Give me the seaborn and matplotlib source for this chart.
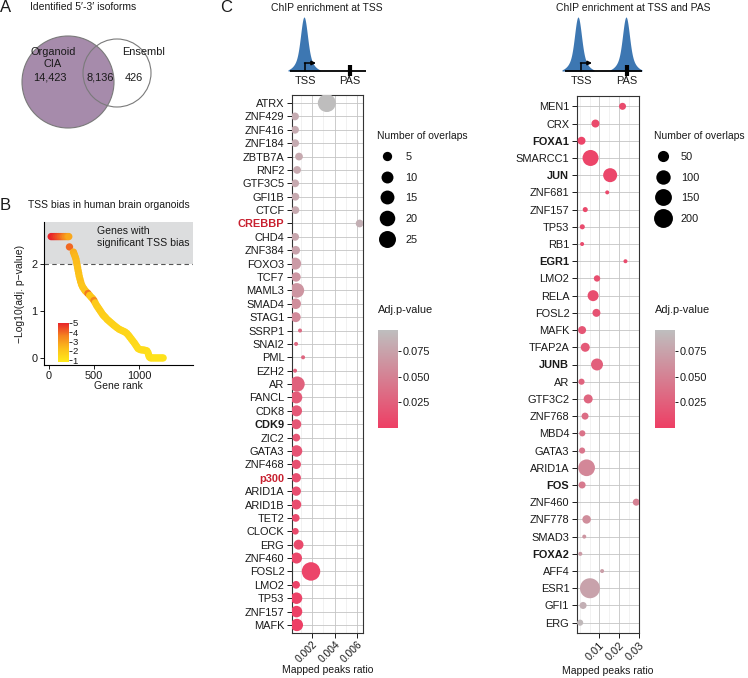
import numpy as np
import pandas as pd
import matplotlib
matplotlib.use("Agg")
import matplotlib.pyplot as plt
from matplotlib.colors import LinearSegmentedColormap, Normalize
from matplotlib.patches import Circle
from matplotlib.lines import Line2D
from matplotlib.ticker import FixedLocator
import seaborn as sns

# ---------------- data ----------------
# Panel A: Venn counts (organoid only, shared, ensembl only)
venn_names = ["Organoid\nCIA", "Ensembl"]
venn_counts = [14423, 8136, 426]

# Panel B: TSS bias per gene
gene_rank = [25, 45, 65, 85, 105, 125, 145, 165, 185, 205, 220, 228,
             272, 282, 292, 300, 306, 312, 318, 324, 330, 336, 344, 352, 362, 374,
             388, 402, 418, 434, 452, 470, 486, 500, 514, 528, 542, 556, 570, 584,
             598, 612, 628, 646, 664, 682, 700, 718, 738, 758, 780, 802, 824, 846,
             866, 884, 900, 916, 932, 948, 962, 976, 990, 1010, 1030, 1050, 1070,
             1088, 1100, 1108, 1116, 1130, 1150, 1170, 1190, 1210, 1230, 1250, 1268]
neg_log_p = [2.58, 2.58, 2.58, 2.58, 2.58, 2.58, 2.58, 2.58, 2.58, 2.58, 2.58, 2.36,
             2.25, 2.20, 2.15, 2.10, 2.04, 1.98, 1.92, 1.86, 1.80, 1.74, 1.68, 1.62, 1.56, 1.51,
             1.47, 1.43, 1.40, 1.37, 1.33, 1.29, 1.26, 1.22, 1.17, 1.12, 1.08, 1.04, 1.00, 0.96,
             0.92, 0.89, 0.86, 0.82, 0.79, 0.76, 0.73, 0.70, 0.67, 0.64, 0.61, 0.59, 0.57, 0.55,
             0.52, 0.48, 0.44, 0.40, 0.36, 0.32, 0.28, 0.24, 0.20, 0.18, 0.17, 0.17, 0.16,
             0.15, 0.11, 0.06, 0.02, 0.0, 0.0, 0.0, 0.0, 0.0, 0.0, 0.0, 0.0]
bias_score = [5.0, 5.0, 4.8, 4.6, 4.4, 4.2, 4.0, 3.7, 3.4, 3.1, 2.8, 4.0,
              2.6, 2.5, 2.4, 2.4, 2.3, 2.3, 2.2, 2.2, 2.2, 2.1, 2.1, 2.2, 2.1, 2.0,
              2.0, 2.1, 2.0, 3.8, 2.0, 1.9, 2.0, 3.5, 1.9, 1.9, 1.9, 1.8, 1.9, 1.8,
              1.8, 1.8, 1.7, 1.7, 1.7, 1.7, 1.6, 1.7, 1.6, 1.6, 1.6, 1.6, 1.5, 1.5,
              1.5, 1.5, 1.5, 1.4, 1.4, 1.4, 1.4, 1.4, 1.3, 1.3, 1.3, 1.3, 1.3,
              1.3, 1.2, 1.2, 1.2, 1.2, 1.2, 1.1, 1.1, 1.1, 1.1, 1.1, 1.1]

# Panel C left: ChIP enrichment at TSS
tss_tf = ["ATRX", "ZNF429", "ZNF416", "ZNF184", "ZBTB7A", "RNF2", "GTF3C5", "GFI1B",
          "CTCF", "CREBBP", "CHD4", "ZNF384", "FOXO3", "TCF7", "MAML3", "SMAD4", "STAG1",
          "SSRP1", "SNAI2", "PML", "EZH2", "AR", "FANCL", "CDK8", "CDK9", "ZIC2", "GATA3",
          "ZNF468", "p300", "ARID1A", "ARID1B", "TET2", "CLOCK", "ERG", "ZNF460", "FOSL2",
          "LMO2", "TP53", "ZNF157", "MAFK"]
tss_ratio = [0.0033, 0.00049, 0.00049, 0.0005, 0.00084, 0.00067, 0.0005, 0.00052,
             0.00052, 0.0062, 0.0005, 0.00055, 0.0005, 0.00058, 0.00065, 0.00055, 0.00055,
             0.00093, 0.00058, 0.0012, 0.00049, 0.00067, 0.0006, 0.00062, 0.0006, 0.0006,
             0.00062, 0.0006, 0.0006, 0.0006, 0.0006, 0.00055, 0.00052, 0.0008, 0.00062,
             0.0019, 0.00058, 0.00062, 0.00062, 0.00065]
tss_overlaps = [29, 3, 3, 3, 3, 3, 3, 3, 3, 3, 3, 4, 10, 5, 17, 7, 6, 1, 1, 1, 1, 19,
                10, 8, 6, 3, 9, 5, 5, 5, 6, 3, 2, 6, 8, 31, 3, 9, 9, 11]
tss_padj = [0.095, 0.082, 0.082, 0.082, 0.08, 0.08, 0.08, 0.08, 0.08, 0.085, 0.078,
            0.075, 0.07, 0.066, 0.065, 0.06, 0.057, 0.035, 0.032, 0.03, 0.028, 0.027,
            0.022, 0.02, 0.018, 0.017, 0.016, 0.014, 0.013, 0.012, 0.011, 0.01, 0.009,
            0.008, 0.007, 0.005, 0.004, 0.003, 0.002, 0.001]
tss_bold = ["CDK9", "CREBBP", "p300"]
tss_red = ["CREBBP", "p300"]

# Panel C right: ChIP enrichment at TSS and PAS
pas_tf = ["MEN1", "CRX", "FOXA1", "SMARCC1", "JUN", "ZNF681", "ZNF157", "TP53", "RB1",
          "EGR1", "LMO2", "RELA", "FOSL2", "MAFK", "TFAP2A", "JUNB", "AR", "GTF3C2",
          "ZNF768", "MBD4", "GATA3", "ARID1A", "FOS", "ZNF460", "ZNF778", "SMAD3",
          "FOXA2", "AFF4", "ESR1", "GFI1", "ERG"]
pas_ratio = [0.0218, 0.008, 0.0009, 0.0055, 0.0155, 0.014, 0.0028, 0.0013, 0.0012,
             0.0233, 0.0088, 0.0068, 0.0085, 0.0012, 0.0028, 0.0088, 0.0009, 0.0043,
             0.0027, 0.0013, 0.0012, 0.0035, 0.0012, 0.0288, 0.0035, 0.0023, 0.0003,
             0.0114, 0.0052, 0.0017, 0.0002]
pas_overlaps = [13, 19, 19, 132, 93, 5, 6, 6, 5, 5, 10, 48, 19, 19, 27, 61, 9, 27,
                13, 9, 9, 147, 13, 13, 23, 5, 5, 5, 230, 13, 9]
pas_padj = [0.01, 0.008, 0.005, 0.005, 0.006, 0.008, 0.008, 0.01, 0.01, 0.01, 0.012,
            0.012, 0.015, 0.018, 0.02, 0.025, 0.028, 0.03, 0.035, 0.04, 0.042, 0.055,
            0.045, 0.05, 0.06, 0.065, 0.07, 0.072, 0.075, 0.085, 0.092]
pas_bold = ["FOXA1", "JUN", "EGR1", "JUNB", "FOS", "FOXA2"]

# ---------------- style ----------------
sns.set_theme(style="white")
FS = 7.5
TFS = 7.9
plt.rcParams["font.family"] = ["Liberation Sans", "DejaVu Sans"]
plt.rcParams.update({"font.size": FS, "axes.labelsize": FS, "xtick.labelsize": TFS,
                     "ytick.labelsize": TFS, "text.color": "#1a1a1a",
                     "axes.labelcolor": "#1a1a1a", "xtick.color": "#1a1a1a",
                     "ytick.color": "#1a1a1a"})

W, H = 748, 678
fig = plt.figure(figsize=(W / 100, H / 100), dpi=100, facecolor="white")


def box(x0, y0, x1, y1):
    return [x0 / W, 1 - y1 / H, (x1 - x0) / W, (y1 - y0) / H]


# overlay in pixel coordinates for annotations
ov = fig.add_axes([0, 0, 1, 1])
ov.set_xlim(0, W)
ov.set_ylim(H, 0)
ov.axis("off")

ov.text(0, 8, "A", fontsize=12, va="center")
ov.text(0, 206, "B", fontsize=12, va="center")
ov.text(220, 8, "C", fontsize=12, va="center")
ov.text(30, 7, "Identified 5\u2032-3\u2032 isoforms", va="center")
ov.text(28, 205, "TSS bias in human brain organoids", va="center")
ov.text(327, 8, "ChIP enrichment at TSS", ha="center", va="center")
ov.text(633, 8, "ChIP enrichment at TSS and PAS", ha="center", va="center")

# ---------------- A: venn ----------------
ov.add_patch(Circle((68, 82), 46, fc="#A68BAB", ec="#7a7a7a", lw=0.8))
ov.add_patch(Circle((117, 73), 34, fc="none", ec="#7a7a7a", lw=0.8))
ov.text(53, 58, venn_names[0], ha="center", va="center", linespacing=1.15, fontsize=7.9)
ov.text(144, 52, venn_names[1], ha="center", va="center", fontsize=7.9)
ov.text(50, 78, f"{venn_counts[0]:,}", ha="center", va="center", fontsize=7.9)
ov.text(100, 78, f"{venn_counts[1]:,}", ha="center", va="center", fontsize=7.9)
ov.text(134, 78, f"{venn_counts[2]:,}", ha="center", va="center", fontsize=7.9)

# ---------------- B: TSS bias ----------------
bias_cmap = LinearSegmentedColormap.from_list(
    "bias", ["#FFEB1A", "#FCC01A", "#F5841F", "#E8252A"])
bias_norm = Normalize(0.8, 5)
axB = fig.add_axes(box(44, 222, 193, 365))
axB.axhspan(2, 3, color="#DCDDDE", lw=0, zorder=0)
axB.axhline(2, color="#555555", ls=(0, (4, 3)), lw=0.8, zorder=1)
dfB = pd.DataFrame({"rank": gene_rank, "p": neg_log_p, "bias": bias_score})
sns.scatterplot(data=dfB, x="rank", y="p", hue="bias", palette=bias_cmap,
                hue_norm=bias_norm, s=28, linewidth=0, legend=False, ax=axB, zorder=3)
axB.set_xlim(-55, 1600)
axB.set_ylim(-0.15, 2.89)
axB.set_xticks([0, 500, 1000])
axB.set_yticks([0, 1, 2])
for s in ["top", "right"]:
    axB.spines[s].set_visible(False)
for s in ["left", "bottom"]:
    axB.spines[s].set_color("black")
    axB.spines[s].set_linewidth(0.8)
axB.tick_params(length=3, width=0.7, pad=1.5, bottom=True, left=True)
axB.set_xlabel("Gene rank", labelpad=0)
axB.set_ylabel("\u2212Log10(adj. p\u2212value)", labelpad=5)
axB.text(530, 2.58, "Genes with\nsignificant TSS bias", va="center", ha="left",
         linespacing=1.25, fontsize=7.6)

caxB = fig.add_axes(box(58, 323, 69, 362))
cbB = fig.colorbar(plt.cm.ScalarMappable(norm=bias_norm, cmap=bias_cmap), cax=caxB,
                   ticks=[1, 2, 3, 4, 5])
cbB.outline.set_visible(False)
caxB.tick_params(labelsize=6.8, length=2, width=0.6, pad=0.5)
ov.text(46, 315, "Bias score", va="center", fontsize=7.9)

# ---------------- C: dot plots ----------------
padj_cmap = LinearSegmentedColormap.from_list("padj", ["#EE3E64", "#BEBEBE"])
padj_norm = Normalize(0.0, 0.096)


def area(counts, vmin, vmax, dmin, dmax):
    c = np.asarray(counts, dtype=float)
    d = dmin + np.sqrt((c - vmin) / (vmax - vmin)) * (dmax - dmin)
    return (d * 0.72) ** 2


def dot_panel(ax, tf, ratio, overlaps, padj, size_args, xlim, xticks, xlabels, minor,
              bold, red):
    df = pd.DataFrame({"tf": tf, "ratio": ratio, "padj": padj,
                       "area": area(overlaps, *size_args)})
    amin, amax = area([size_args[0], size_args[1]], *size_args)
    ax.set_axisbelow(True)
    sns.scatterplot(data=df, x="ratio", y="tf", hue="padj", palette=padj_cmap,
                    hue_norm=padj_norm, size="area", sizes=(amin, amax),
                    size_norm=(amin, amax), linewidth=0, legend=False, ax=ax, zorder=3)
    n = len(tf)
    ax.set_ylim(n - 0.4, -0.6)
    ax.set_yticks(range(n), labels=tf)
    ax.set_xlim(*xlim)
    ax.set_xticks(xticks, labels=xlabels, rotation=45, ha="right",
                  rotation_mode="anchor")
    ax.xaxis.set_minor_locator(FixedLocator(minor))
    ax.grid(which="major", axis="both", color="#C4C4C4", lw=0.6)
    ax.grid(which="minor", axis="x", color="#EBEBEB", lw=0.5)
    ax.tick_params(which="major", length=3.5, width=0.7, pad=2, bottom=True, left=True)
    ax.tick_params(which="minor", length=0)
    for s in ax.spines.values():
        s.set_color("#333333")
        s.set_linewidth(0.8)
    ax.set_xlabel("Mapped peaks ratio", labelpad=0)
    ax.set_ylabel("")
    for lab in ax.get_yticklabels():
        t = lab.get_text()
        if t in bold:
            lab.set_fontweight("bold")
        if t in red:
            lab.set_color("#C8202F")


axL = fig.add_axes(box(292, 95, 363, 633))
dot_panel(axL, tss_tf, tss_ratio, tss_overlaps, tss_padj, (1, 31, 4, 18.5),
          (0.00022, 0.0065), [0.002, 0.004, 0.006], ["0.002", "0.004", "0.006"],
          [0.001, 0.003, 0.005], tss_bold, tss_red)
axL.tick_params(axis="x", labelsize=7.4, pad=1)

axR = fig.add_axes(box(577, 96, 639, 633))
dot_panel(axR, pas_tf, pas_ratio, pas_overlaps, pas_padj, (5, 230, 4, 20),
          (-0.0014, 0.0302), [0.01, 0.02, 0.03], ["0.01", "0.02", "0.03"],
          [0.0, 0.005, 0.015, 0.025], pas_bold, [])
axR.xaxis.labelpad = 2


def size_legend(ax, values, size_args, anchor, hlen):
    handles = [Line2D([], [], ls="", marker="o", color="black", markeredgewidth=0,
                      markersize=np.sqrt(a)) for a in area(values, *size_args)]
    leg = ax.legend(handles, [str(v) for v in values], title="Number of overlaps",
                    loc="upper left", bbox_to_anchor=(anchor[0] / W, 1 - anchor[1] / H),
                    bbox_transform=fig.transFigure, frameon=False, fontsize=TFS,
                    title_fontsize=7.5, borderpad=0, borderaxespad=0, labelspacing=0.98,
                    handlelength=hlen, handletextpad=0.8)
    leg._legend_box.align = "left"


size_legend(axL, [5, 10, 15, 20, 25], (1, 31, 4, 18.5), (377, 131), 1.8)
size_legend(axR, [50, 100, 150, 200], (5, 230, 4, 20), (654, 131), 1.65)

for x0 in [378, 655]:
    cax = fig.add_axes(box(x0, 330, x0 + 20, 428))
    cb = fig.colorbar(plt.cm.ScalarMappable(norm=padj_norm, cmap=padj_cmap), cax=cax,
                      ticks=[0.025, 0.050, 0.075])
    cb.ax.set_yticklabels(["0.025", "0.050", "0.075"])
    cb.outline.set_visible(False)
    cax.tick_params(length=2, width=0.7, pad=1)
    ov.text(x0, 310, "Adj.p-value", va="center", fontsize=TFS)

# ---------------- schematics ----------------
peak_dx = np.linspace(-16, 16, 200)
peak_shape = 0.7 * np.exp(-0.5 * (peak_dx / 3.2) ** 2) + 0.3 * np.exp(-0.5 * (peak_dx / 7) ** 2)


def schematic(x0, x1, peaks, tss, pas):
    for px in peaks:
        ov.fill_between(px + peak_dx, 71, 71 - 54 * peak_shape, color="#3D77B2", lw=0)
    ov.plot([x0, x1], [71, 71], color="black", lw=1.3, solid_capstyle="butt")
    ov.plot([tss, tss], [71, 63], color="black", lw=1.1)
    ov.annotate("", xy=(tss + 11, 63), xytext=(tss - 0.5, 63),
                arrowprops=dict(arrowstyle="-|>", lw=1.1, color="black",
                                mutation_scale=6, shrinkA=0, shrinkB=0))
    ov.plot([pas, pas], [64.5, 76], color="black", lw=3, solid_capstyle="butt")
    ov.text(tss, 81, "TSS", ha="center", va="center", fontsize=TFS)
    ov.text(pas, 81, "PAS", ha="center", va="center", fontsize=TFS)


schematic(290, 366, [304], 305, 350)
schematic(565, 642, [578, 626], 581, 627)

fig.savefig("out.png", dpi=100, facecolor="white")
